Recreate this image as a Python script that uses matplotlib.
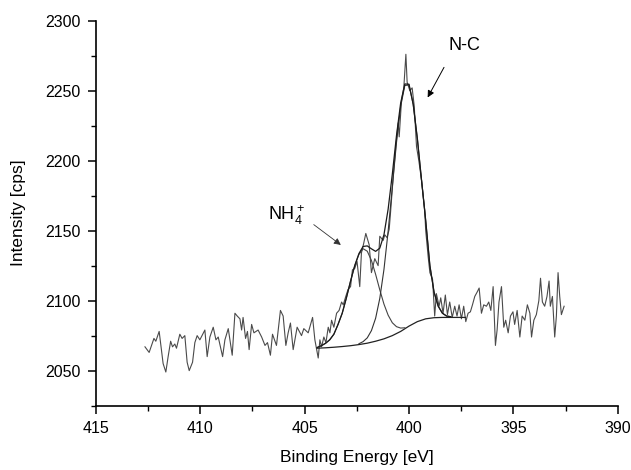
import matplotlib
matplotlib.use("Agg")
import matplotlib.pyplot as plt
from matplotlib.ticker import MultipleLocator

plt.rcParams['font.family'] = ['Liberation Sans', 'DejaVu Sans']
plt.rcParams['mathtext.fontset'] = 'custom'
plt.rcParams['mathtext.rm'] = 'Liberation Sans'

energy = [412.65, 412.45, 412.22, 412.13, 411.97, 411.78, 411.65, 411.54, 411.42, 411.33,
          411.22, 411.14, 410.98, 410.87, 410.74, 410.63, 410.53, 410.37, 410.26, 410.15,
          410.02, 409.78, 409.67, 409.54, 409.38, 409.25, 409.14, 408.93, 408.82, 408.66,
          408.47, 408.34, 408.23, 408.10, 408.02, 407.95, 407.83, 407.74, 407.66, 407.54,
          407.43, 407.23, 407.06, 406.90, 406.78, 406.64, 406.54, 406.35, 406.16, 406.03,
          405.90, 405.79, 405.68, 405.55, 405.36, 405.15, 405.04, 404.83, 404.62, 404.51,
          404.35, 404.27, 404.19, 404.08, 403.98, 403.87, 403.79, 403.71, 403.60, 403.47,
          403.35, 403.23, 403.15, 403.03, 402.92, 402.80, 402.71, 402.60, 402.49, 402.36,
          402.28, 402.17, 402.07, 401.91, 401.80, 401.64, 401.48, 401.40, 401.24, 401.16,
          401.05, 400.95, 400.89, 400.80, 400.75, 400.62, 400.52, 400.47, 400.36, 400.25,
          400.15, 400.09, 399.96, 399.85, 399.75, 399.64, 399.53, 399.40, 399.25, 399.20,
          399.08, 399.00, 398.87, 398.77, 398.69, 398.56, 398.48, 398.37, 398.26, 398.16,
          398.05, 397.93, 397.81, 397.70, 397.60, 397.49, 397.38, 397.28, 397.17, 397.06,
          396.96, 396.85, 396.74, 396.64, 396.53, 396.42, 396.29, 396.18, 396.08, 395.97,
          395.86, 395.78, 395.69, 395.57, 395.46, 395.37, 395.25, 395.14, 395.02, 394.94,
          394.82, 394.69, 394.58, 394.45, 394.33, 394.21, 394.13, 394.02, 393.90, 393.78,
          393.70, 393.61, 393.50, 393.39, 393.29, 393.23, 393.13, 393.02, 392.94, 392.86,
          392.78, 392.70, 392.57]
counts = [2067, 2063, 2073, 2071, 2078, 2055, 2049, 2060, 2071, 2067,
          2069, 2066, 2076, 2073, 2075, 2056, 2050, 2056, 2070, 2075,
          2072, 2079, 2060, 2074, 2081, 2072, 2074, 2060, 2072, 2080,
          2061, 2091, 2089, 2087, 2079, 2088, 2073, 2078, 2065, 2083,
          2077, 2079, 2074, 2068, 2070, 2061, 2076, 2068, 2093, 2089,
          2068, 2077, 2084, 2065, 2081, 2075, 2080, 2077, 2088, 2072,
          2059, 2072, 2067, 2074, 2070, 2081, 2077, 2086, 2081, 2091,
          2093, 2099, 2097, 2103, 2108, 2110, 2122, 2123, 2128, 2110,
          2134, 2141, 2148, 2140, 2120, 2130, 2125, 2146, 2143, 2147,
          2145, 2151, 2162, 2180, 2190, 2212, 2227, 2217, 2243, 2252,
          2276, 2256, 2250, 2252, 2239, 2210, 2200, 2186, 2165, 2150,
          2131, 2120, 2115, 2089, 2105, 2096, 2102, 2091, 2104, 2090,
          2099, 2088, 2096, 2089, 2097, 2087, 2096, 2085, 2091, 2092,
          2097, 2103, 2106, 2109, 2091, 2097, 2096, 2099, 2093, 2110,
          2068, 2079, 2099, 2110, 2081, 2086, 2077, 2089, 2092, 2083,
          2093, 2074, 2089, 2086, 2097, 2091, 2074, 2086, 2090, 2100,
          2116, 2099, 2096, 2103, 2114, 2096, 2103, 2074, 2089, 2120,
          2103, 2090, 2096]

# background
bg_x = [404.4, 404.0, 403.6, 403.2, 402.8, 402.4, 402.0, 401.6, 401.2, 400.8,
        400.4, 400.0, 399.6, 399.2, 398.8, 398.4, 398.0, 397.6, 397.3]
bg_y = [2066.0, 2066.3, 2066.7, 2067.2, 2067.8, 2068.6, 2069.6, 2071.0, 2072.7, 2075.0,
        2078.0, 2081.8, 2085.0, 2087.0, 2087.8, 2088.0, 2088.0, 2088.0, 2088.0]

# NH4+ component
nh4_x = [404.4, 404.2, 404.0, 403.8, 403.6, 403.4, 403.2, 403.0, 402.8, 402.6, 402.4,
         402.2, 402.0, 401.8, 401.6, 401.4, 401.2, 401.0, 400.8, 400.6, 400.4, 400.2]
nh4_y = [2066.5, 2067.8, 2069.5, 2072.0, 2076.0, 2083.0, 2091.0, 2102.0, 2114.0, 2125.0, 2133.0,
         2137.1, 2135.3, 2128.7, 2118.8, 2107.7, 2097.5, 2089.6, 2084.2, 2081.4, 2080.4, 2080.6]

# N-C component
nc_x = [402.4, 402.2, 402.0, 401.8, 401.6, 401.4, 401.2, 401.0, 400.8, 400.6, 400.4, 400.2,
        400.0, 399.8, 399.6, 399.4, 399.2, 399.0, 398.8, 398.6, 398.4, 398.2, 398.0]
nc_y = [2069.2, 2070.7, 2073.4, 2078.6, 2087.4, 2101.6, 2122.3, 2149.6, 2181.1, 2213.0, 2238.8, 2253.7,
        2254.1, 2240.3, 2215.7, 2186.0, 2157.1, 2125.0, 2106.0, 2096.0, 2091.0, 2089.0, 2088.5]

# envelope (sum of the fit)
env_x = [404.4, 404.2, 404.0, 403.8, 403.6, 403.4, 403.2, 403.0, 402.8, 402.6, 402.4,
         402.2, 402.0, 401.8, 401.6, 401.4, 401.2, 401.0, 400.8, 400.6, 400.4, 400.2,
         400.0, 399.8, 399.6, 399.4, 399.2, 399.0, 398.8, 398.6, 398.4, 398.2, 398.0]
env_y = [2066.5, 2067.8, 2069.5, 2072.0, 2076.0, 2083.0, 2091.0, 2102.0, 2114.0, 2125.0, 2133.6,
         2138.7, 2139.1, 2137.0, 2135.2, 2137.5, 2147.1, 2165.4, 2190.3, 2217.9, 2241.2, 2254.8,
         2254.6, 2240.3, 2215.7, 2186.0, 2157.1, 2125.0, 2106.0, 2096.0, 2091.0, 2089.0, 2088.5]

fig = plt.figure(figsize=(6.31, 4.70), dpi=100)
ax = fig.add_axes([0.152, 0.137, 0.827, 0.819])

ax.plot(energy, counts, color='#4a4a4a', lw=0.8)
ax.plot(bg_x, bg_y, color='#222222', lw=0.9)
ax.plot(nh4_x, nh4_y, color='#444444', lw=0.8)
ax.plot(nc_x, nc_y, color='#333333', lw=0.8)
ax.plot(env_x, env_y, color='#1a1a1a', lw=0.9)

ax.set_xlim(415, 390)
ax.set_ylim(2025, 2300)
ax.xaxis.set_major_locator(MultipleLocator(5))
ax.xaxis.set_minor_locator(MultipleLocator(2.5))
ax.yaxis.set_major_locator(MultipleLocator(50))
ax.yaxis.set_minor_locator(MultipleLocator(25))
ax.set_yticks([2050, 2100, 2150, 2200, 2250, 2300])
ax.tick_params(which='major', direction='out', length=6, width=1.1, labelsize=11.5,
               colors='black', pad=5)
ax.tick_params(which='minor', direction='out', length=3.5, width=1.0)
for s in ['top', 'right']:
    ax.spines[s].set_visible(False)
for s in ['left', 'bottom']:
    ax.spines[s].set_linewidth(1.2)

ax.set_xlabel('Binding Energy [eV]', fontsize=12.5, labelpad=10)
ax.set_ylabel('Intensity [cps]', fontsize=12.5, labelpad=14)

ax.text(397.33, 2282, 'N-C', fontsize=13, ha='center', va='center')
ax.annotate('', xy=(399.17, 2243.4), xytext=(398.26, 2268.4),
            arrowprops=dict(arrowstyle='-|>', color='black', lw=0.7, mutation_scale=10))
ax.text(405.85, 2161, 'NH$_4^+$', fontsize=13, ha='center', va='center')
ax.annotate('', xy=(403.16, 2138.6), xytext=(404.67, 2155.5),
            arrowprops=dict(arrowstyle='-|>', color='#333333', lw=0.6, mutation_scale=10))

fig.savefig('out.png', dpi=100)
